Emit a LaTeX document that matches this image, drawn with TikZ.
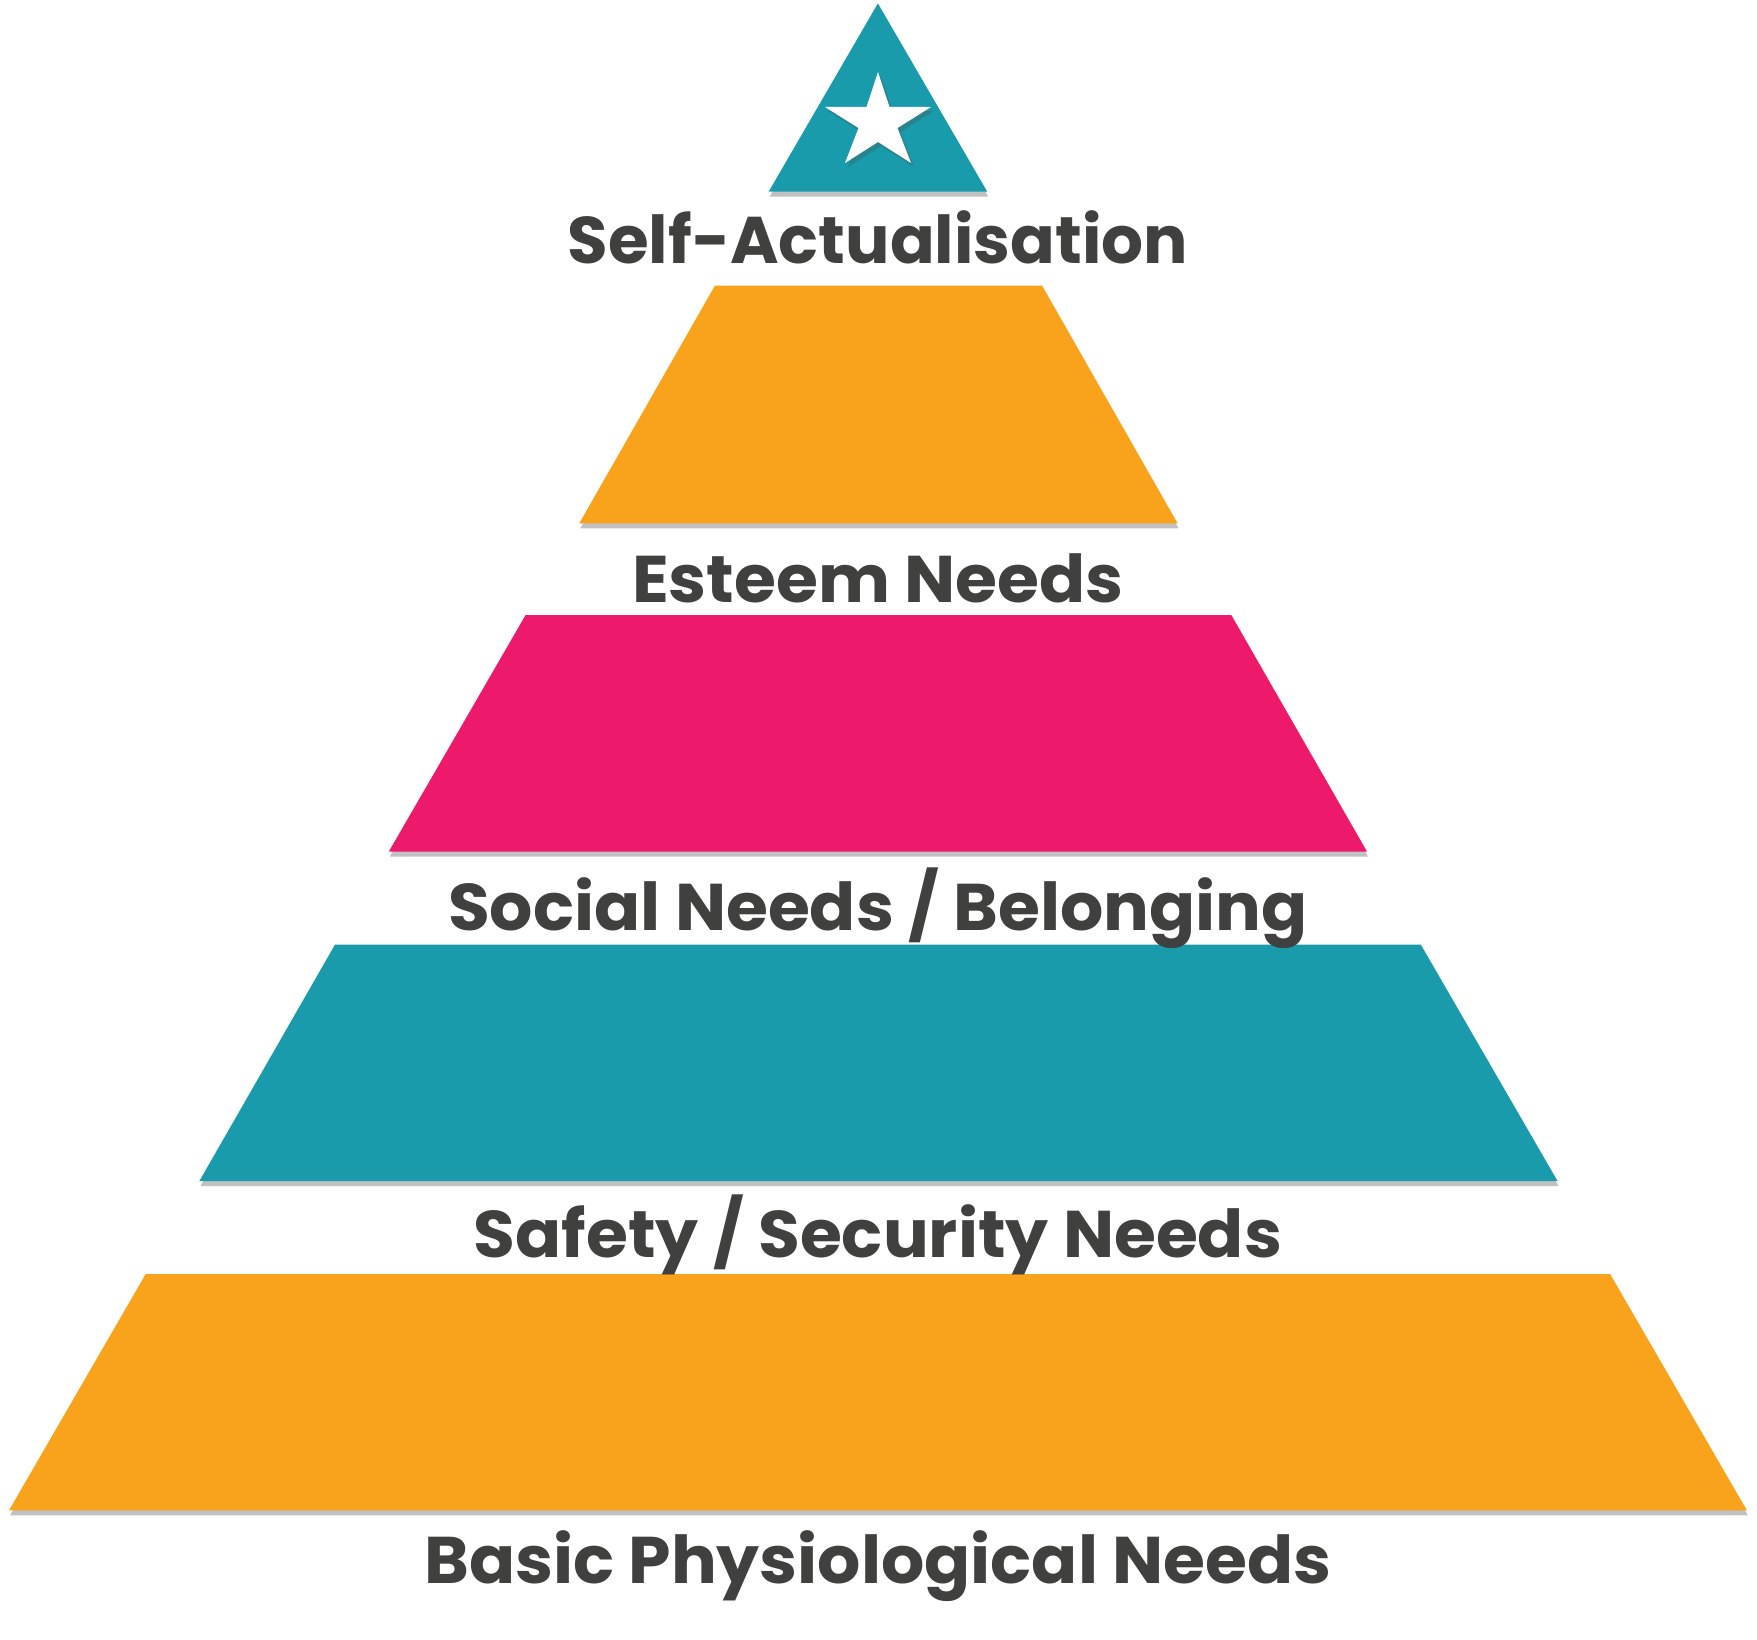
\documentclass[tikz,border=0pt]{standalone}
\usepackage{fontspec}
\setmainfont{Poppins}[FakeStretch=1.03]
\usetikzlibrary{shadows}
\definecolor{tealc}{RGB}{26,155,171}
\definecolor{orangec}{RGB}{249,163,29}
\definecolor{pinkc}{RGB}{237,26,107}
\definecolor{txtc}{RGB}{64,64,62}
\begin{document}
\begin{tikzpicture}[x=1pt,y=-1pt,
  band/.style={drop shadow={shadow xshift=1pt,shadow yshift=-5pt,opacity=0.35,fill=black!70}},
  lbl/.style={anchor=base,text=txtc,inner sep=0pt,font=\fontsize{66}{72}\selectfont\bfseries}]
\useasboundingbox (0,0) rectangle (1757,1640);
% apex triangle
\fill[tealc,band] (877.9,3.4) -- (987.2,191.6) -- (768.7,191.6) -- cycle;
% star
\fill[white,drop shadow={shadow xshift=3pt,shadow yshift=-4pt,opacity=0.3,fill=black!70}]
  (878,72) -- (889.5,107) -- (931,107) -- (897.5,128) -- (911,163) -- (878,142)
  -- (845,163) -- (858.5,128) -- (825,107) -- (866.5,107) -- cycle;
% bands
\fill[orangec,band] (714.9,285.7) -- (1042.1,285.7) -- (1177.6,523.3) -- (579.3,523.3) -- cycle;
\fill[pinkc,band] (525.5,615.2) -- (1231.4,615.2) -- (1367.0,851.6) -- (388.8,851.6) -- cycle;
\fill[tealc,band] (335.0,944.6) -- (1420.8,944.6) -- (1557.5,1181.0) -- (199.4,1181.0) -- cycle;
\fill[orangec,band] (145.7,1274.0) -- (1610.1,1274.0) -- (1746.9,1510.4) -- (9.0,1510.4) -- cycle;
% labels
\node[lbl] (sa) at (877.9,263.3) {\scalebox{0.97}[1]{Self-Actualisation}};
\node[lbl] (es) at (877.9,602.8) {Esteem Needs};
\node[lbl] (so) at (877.9,930.0) {Social Needs / Belonging};
\node[lbl] (sf) at (877.9,1257.2) {Safety / Security Needs};
\node[lbl] (ba) at (877.9,1583.3) {Basic Physiological Needs};
\end{tikzpicture}
\end{document}
